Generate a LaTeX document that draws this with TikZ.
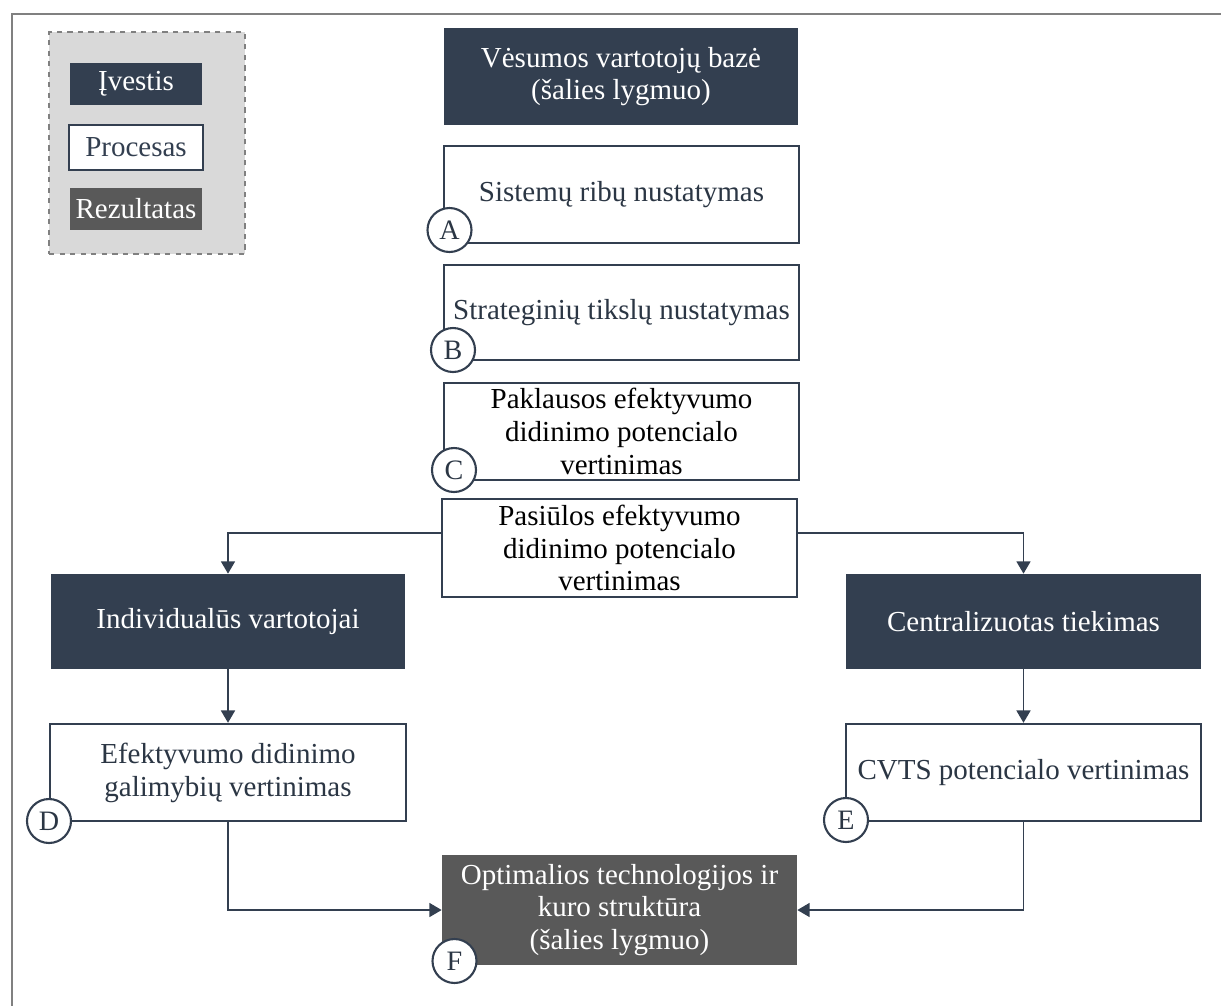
\documentclass[tikz,border=0pt]{standalone}
\usepackage{fontspec}
\setmainfont{Liberation Serif}
\newfontfamily\diagfont{Liberation Serif}
\usetikzlibrary{arrows.meta}
\definecolor{navy}{HTML}{333F50}
\definecolor{dgray}{HTML}{595959}
\definecolor{lgray}{HTML}{D9D9D9}
\definecolor{frame}{HTML}{808080}
\tikzset{
  base/.style={rectangle, inner sep=0pt, align=center, font=\diagfont\fontsize{16.5}{18.7}\selectfont},
  inbox/.style={base, fill=navy, text=white},
  procbox/.style={base, fill=white, draw=navy, line width=1.4pt},
  resbox/.style={base, fill=dgray, text=white},
  lab/.style={circle, draw=navy, fill=white, line width=1.2pt, minimum size=0.88cm, inner sep=0pt, font=\diagfont\fontsize{16}{18}\selectfont, text=navy!85!black},
  arr/.style={draw=navy, line width=0.8pt, -{Triangle[length=7pt,width=8pt]}},
}
\begin{document}
\begin{tikzpicture}[x=0.02cm,y=-0.02cm]
\useasboundingbox (0,0) rectangle (1221,1005);
% frame
\draw[frame, line width=1.6pt] (12,1010) -- (12,14) -- (1225,14);
% legend
\node[base, fill=lgray, draw=frame, dashed, line width=0.9pt, minimum width=196*0.02cm, minimum height=222*0.02cm] (leg) at (147,143) {};
\node[inbox, minimum width=132*0.02cm, minimum height=42*0.02cm] (iv) at (136,84) {Įvestis};
\node[procbox, text=navy, minimum width=134*0.02cm, minimum height=45*0.02cm] (pr) at (136,147.5) {Procesas};
\node[resbox, minimum width=132*0.02cm, minimum height=42*0.02cm] (rz) at (136,209) {Rezultatas};
% main column
\node[inbox, minimum width=354*0.02cm, minimum height=97*0.02cm] (top) at (621,76.5) {Vėsumos vartotojų bazė\\(šalies lygmuo)};
\node[procbox, text=navy!85!black, minimum width=355*0.02cm, minimum height=97*0.02cm] (A) at (621.5,194.5) {Sistemų ribų nustatymas};
\node[procbox, text=navy!85!black, minimum width=355*0.02cm, minimum height=95*0.02cm] (B) at (621.5,312.5) {Strateginių tikslų nustatymas};
\node[procbox, text=black, minimum width=355*0.02cm, minimum height=97*0.02cm] (C) at (621.5,431.5) {Paklausos efektyvumo\\didinimo potencialo\\vertinimas};
\node[procbox, text=black, minimum width=355*0.02cm, minimum height=98*0.02cm] (P) at (619.5,548) {Pasiūlos efektyvumo\\didinimo potencialo\\vertinimas};
\node[inbox, minimum width=354*0.02cm, minimum height=95*0.02cm] (Ind) at (228,621.5) {Individualūs vartotojai};
\node[inbox, minimum width=355*0.02cm, minimum height=95*0.02cm] (Cen) at (1023.5,621.5) {Centralizuotas tiekimas};
\node[procbox, text=navy!85!black, minimum width=356*0.02cm, minimum height=97*0.02cm] (D) at (228,772.5) {Efektyvumo didinimo\\galimybių vertinimas};
\node[procbox, text=navy!85!black, minimum width=355*0.02cm, minimum height=97*0.02cm] (E) at (1023.5,772.5) {CVTS potencialo vertinimas};
\node[resbox, minimum width=355*0.02cm, minimum height=110*0.02cm] (F) at (619.5,910) {Optimalios technologijos ir\\kuro struktūra\\(šalies lygmuo)};
% connectors
\draw[arr] ([yshift=0.3cm]P.west) -| (Ind.north);
\draw[arr] ([yshift=0.3cm]P.east) -| (Cen.north);
\draw[arr] (Ind.south) -- (D.north);
\draw[arr] (Cen.south) -- (E.north);
\draw[arr] (D.south) |- (F.west);
\draw[arr] (E.south) |- (F.east);
% labels
\node[lab] (la) at (449.5,230) {A};
\node[lab] (lb) at (453,350) {B};
\node[lab] (lc) at (454,470) {C};
\node[lab] (ld) at (49,821) {D};
\node[lab] (le) at (846,820) {E};
\node[lab] (lf) at (454.5,961) {F};
\end{tikzpicture}
\end{document}
